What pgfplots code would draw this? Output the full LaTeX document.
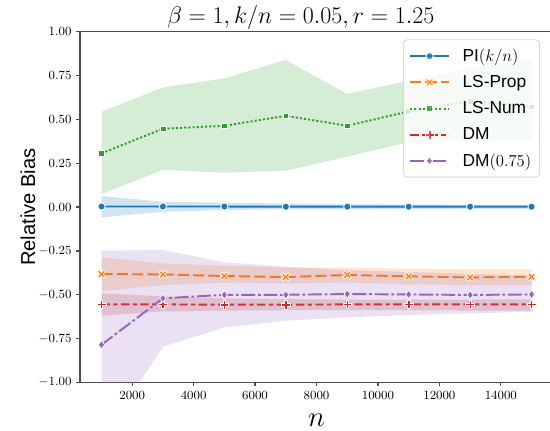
\documentclass[border=0pt]{standalone}
\usepackage{fontspec}
\setmainfont{Liberation Sans}
\usepackage{pgfplots}
\pgfplotsset{compat=1.18}
\definecolor{tblue}{RGB}{31,119,180}
\definecolor{torange}{RGB}{255,127,14}
\definecolor{tgreen}{RGB}{44,160,44}
\definecolor{tred}{RGB}{214,39,40}
\definecolor{tpurple}{RGB}{148,103,189}
\pgfdeclareplotmark{Xf}{%
  \pgftransformrotate{45}%
  \pgfpathmoveto{\pgfqpoint{0.32\pgfplotmarksize}{1.2\pgfplotmarksize}}%
  \pgfpathlineto{\pgfqpoint{0.32\pgfplotmarksize}{0.32\pgfplotmarksize}}%
  \pgfpathlineto{\pgfqpoint{1.2\pgfplotmarksize}{0.32\pgfplotmarksize}}%
  \pgfpathlineto{\pgfqpoint{1.2\pgfplotmarksize}{-0.32\pgfplotmarksize}}%
  \pgfpathlineto{\pgfqpoint{0.32\pgfplotmarksize}{-0.32\pgfplotmarksize}}%
  \pgfpathlineto{\pgfqpoint{0.32\pgfplotmarksize}{-1.2\pgfplotmarksize}}%
  \pgfpathlineto{\pgfqpoint{-0.32\pgfplotmarksize}{-1.2\pgfplotmarksize}}%
  \pgfpathlineto{\pgfqpoint{-0.32\pgfplotmarksize}{-0.32\pgfplotmarksize}}%
  \pgfpathlineto{\pgfqpoint{-1.2\pgfplotmarksize}{-0.32\pgfplotmarksize}}%
  \pgfpathlineto{\pgfqpoint{-1.2\pgfplotmarksize}{0.32\pgfplotmarksize}}%
  \pgfpathlineto{\pgfqpoint{-0.32\pgfplotmarksize}{0.32\pgfplotmarksize}}%
  \pgfpathlineto{\pgfqpoint{-0.32\pgfplotmarksize}{1.2\pgfplotmarksize}}%
  \pgfpathclose
  \pgfusepathqfillstroke
}
\pgfdeclareplotmark{Pf}{%
  \pgfpathmoveto{\pgfqpoint{0.3\pgfplotmarksize}{1.05\pgfplotmarksize}}%
  \pgfpathlineto{\pgfqpoint{0.3\pgfplotmarksize}{0.3\pgfplotmarksize}}%
  \pgfpathlineto{\pgfqpoint{1.05\pgfplotmarksize}{0.3\pgfplotmarksize}}%
  \pgfpathlineto{\pgfqpoint{1.05\pgfplotmarksize}{-0.3\pgfplotmarksize}}%
  \pgfpathlineto{\pgfqpoint{0.3\pgfplotmarksize}{-0.3\pgfplotmarksize}}%
  \pgfpathlineto{\pgfqpoint{0.3\pgfplotmarksize}{-1.05\pgfplotmarksize}}%
  \pgfpathlineto{\pgfqpoint{-0.3\pgfplotmarksize}{-1.05\pgfplotmarksize}}%
  \pgfpathlineto{\pgfqpoint{-0.3\pgfplotmarksize}{-0.3\pgfplotmarksize}}%
  \pgfpathlineto{\pgfqpoint{-1.05\pgfplotmarksize}{-0.3\pgfplotmarksize}}%
  \pgfpathlineto{\pgfqpoint{-1.05\pgfplotmarksize}{0.3\pgfplotmarksize}}%
  \pgfpathlineto{\pgfqpoint{-0.3\pgfplotmarksize}{0.3\pgfplotmarksize}}%
  \pgfpathlineto{\pgfqpoint{-0.3\pgfplotmarksize}{1.05\pgfplotmarksize}}%
  \pgfpathclose
  \pgfusepathqfillstroke
}
\begin{document}
\begin{tikzpicture}
\begin{axis}[
  at={(57.6pt,34.9pt)}, anchor=south west,
  scale only axis, width=340.6pt, height=252.7pt,
  xmin=300, xmax=15700, ymin=-1, ymax=1,
  xtick={2000,4000,6000,8000,10000,12000,14000},
  ytick={-1,-0.75,-0.5,-0.25,0,0.25,0.5,0.75,1},
  scaled x ticks=false, scaled y ticks=false,
  tick align=outside, tick pos=left,
  major tick length=2.6pt,
  axis line style={black!70, line width=0.9pt},
  every tick/.style={black!70, line width=0.9pt},
  tick label style={font=\fontsize{9}{10}\selectfont},
  xticklabel style={/pgf/number format/set thousands separator={}},
  yticklabel style={/pgf/number format/.cd, fixed, fixed zerofill, precision=2},
  xlabel={$n$}, ylabel={Relative Bias},
  every axis x label/.style={at={(axis description cs:0.5,-0.108)}, anchor=center, font=\fontsize{20}{22}\selectfont},
  every axis y label/.style={at={(axis description cs:-0.110,0.5)}, rotate=90, anchor=center, font=\fontsize{14.5}{16}\selectfont},
  title={$\beta=1, k/n=0.05, r=1.25$},
  every axis title shift=0pt,
  title style={at={(axis description cs:0.467,1.0234)}, anchor=base, font=\fontsize{19}{21}\selectfont},
  legend style={at={(axis description cs:0.9725,0.978)}, anchor=north east, draw=black!15, line width=0.7pt,
    rounded corners=2.5pt, fill=white, fill opacity=0.8, text opacity=1,
    font=\fontsize{12.5}{14}\selectfont, inner xsep=4pt, inner ysep=4.5pt, row sep=4.6pt,
    /tikz/every odd column/.append style={column sep=7pt}},
  legend cell align=left,
  legend image code/.code={\draw[mark repeat=2,mark phase=2] plot coordinates {(0pt,0pt)(14pt,0pt)(28pt,0pt)};},
  every axis plot/.append style={line width=1.4pt},
]
% PI(k/n)
\addplot[fill=tblue, fill opacity=0.2, draw=none, forget plot] coordinates {
 (1000,0.063) (3000,0.030) (5000,0.025) (7000,0.020) (9000,0.017) (11000,0.015) (13000,0.014) (15000,0.013)
 (15000,-0.010) (13000,-0.011) (11000,-0.012) (9000,-0.013) (7000,-0.013) (5000,-0.017) (3000,-0.027) (1000,-0.059)} -- cycle;
\addplot[tblue, solid, mark=*, mark size=2.6pt, mark options={fill=tblue, draw=white, line width=0.6pt}] coordinates {
 (1000,0.003) (3000,0.003) (5000,0.003) (7000,0.002) (9000,0.002) (11000,0.002) (13000,0.002) (15000,0.002)};
\addlegendentry{PI$(k/n)$}
% LS-Prop
\addplot[fill=torange, fill opacity=0.2, draw=none, forget plot] coordinates {
 (1000,-0.287) (3000,-0.321) (5000,-0.334) (7000,-0.345) (9000,-0.345) (11000,-0.352) (13000,-0.355) (15000,-0.355)
 (15000,-0.444) (13000,-0.445) (11000,-0.440) (9000,-0.430) (7000,-0.435) (5000,-0.430) (3000,-0.445) (1000,-0.479)} -- cycle;
\addplot[torange, dash pattern=on 8pt off 3pt, mark=Xf, mark size=2.7pt, mark options={solid, fill=torange, draw=white, line width=0.5pt}] coordinates {
 (1000,-0.382) (3000,-0.384) (5000,-0.393) (7000,-0.399) (9000,-0.387) (11000,-0.395) (13000,-0.401) (15000,-0.397)};
\addlegendentry{LS-Prop}
% LS-Num
\addplot[fill=tgreen, fill opacity=0.2, draw=none, forget plot] coordinates {
 (1000,0.543) (3000,0.682) (5000,0.733) (7000,0.838) (9000,0.644) (11000,0.720) (13000,0.790) (15000,0.840)
 (15000,0.380) (13000,0.375) (11000,0.370) (9000,0.287) (7000,0.207) (5000,0.196) (3000,0.211) (1000,0.074)} -- cycle;
\addplot[tgreen, dash pattern=on 1.5pt off 1.5pt, mark=square*, mark size=2.1pt, mark options={solid, fill=tgreen, draw=white, line width=0.5pt}] coordinates {
 (1000,0.306) (3000,0.446) (5000,0.463) (7000,0.520) (9000,0.463) (11000,0.545) (13000,0.604) (15000,0.571)};
\addlegendentry{LS-Num}
% DM
\addplot[fill=tred, fill opacity=0.2, draw=none, forget plot] coordinates {
 (1000,-0.492) (3000,-0.509) (5000,-0.520) (7000,-0.525) (9000,-0.527) (11000,-0.527) (13000,-0.527) (15000,-0.526)
 (15000,-0.591) (13000,-0.590) (11000,-0.588) (9000,-0.588) (7000,-0.588) (5000,-0.590) (3000,-0.595) (1000,-0.619)} -- cycle;
\addplot[tred, dash pattern=on 6pt off 2.5pt on 3pt off 2.5pt, mark=Pf, mark size=3pt, mark options={solid, fill=tred, draw=white, line width=0.5pt}] coordinates {
 (1000,-0.555) (3000,-0.555) (5000,-0.556) (7000,-0.556) (9000,-0.555) (11000,-0.555) (13000,-0.555) (15000,-0.555)};
\addlegendentry{DM}
% DM(0.75)
\addplot[fill=tpurple, fill opacity=0.2, draw=none, forget plot] coordinates {
 (1000,-0.249) (3000,-0.245) (5000,-0.315) (7000,-0.340) (9000,-0.360) (11000,-0.370) (13000,-0.380) (15000,-0.390)
 (15000,-0.596) (13000,-0.606) (11000,-0.615) (9000,-0.629) (7000,-0.648) (5000,-0.686) (3000,-0.796) (1000,-1.330)} -- cycle;
\addplot[tpurple, dash pattern=on 10pt off 2pt on 2pt off 2pt, mark=diamond*, mark size=3pt, mark options={solid, fill=tpurple, draw=white, line width=0.5pt}] coordinates {
 (1000,-0.785) (3000,-0.520) (5000,-0.500) (7000,-0.500) (9000,-0.496) (11000,-0.498) (13000,-0.501) (15000,-0.498)};
\addlegendentry{DM$(0.75)$}
\end{axis}
\pgfresetboundingbox
\useasboundingbox (0,0) rectangle (396pt,310.32pt);
\end{tikzpicture}
\end{document}
